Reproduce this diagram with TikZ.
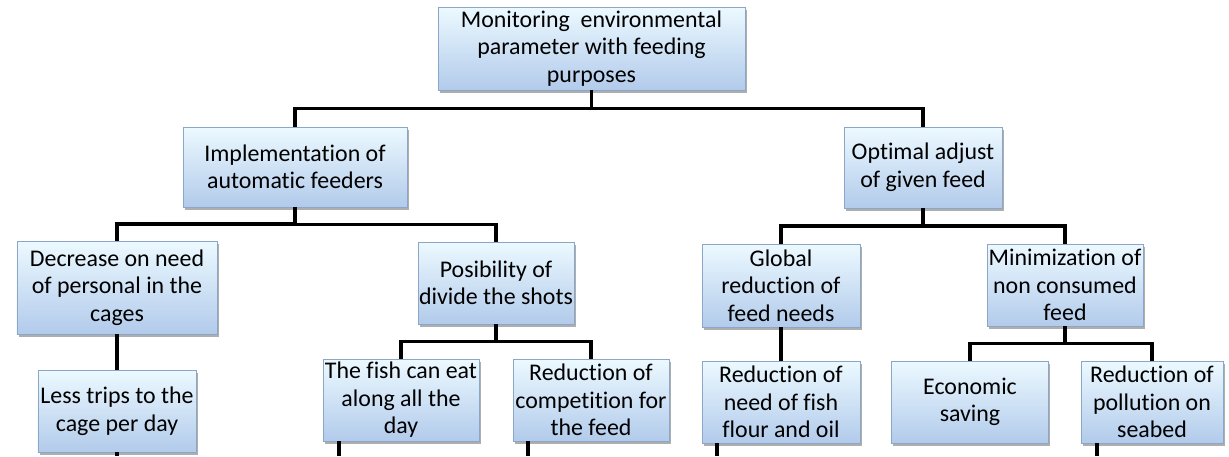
\documentclass[tikz,border=0pt]{standalone}
\usepackage{fontspec}
\setmainfont{Carlito}[Ligatures=NoCommon]
\usetikzlibrary{calc,shadows}
\definecolor{boxtop}{RGB}{236,249,255}
\definecolor{boxbot}{RGB}{178,203,235}
\definecolor{boxline}{RGB}{140,166,200}
\newcommand{\branch}[2]{%
  \draw[link] (#1.south) |- ($(#1.south)!0.5!(#2.north)$) -| (#2.north);
}

\begin{document}
\begin{tikzpicture}[x=0.3mm, y=-0.3mm, line join=miter]
\tikzset{box/.style={draw=boxline, line width=0.6pt, top color=boxtop, bottom color=boxbot, align=center, inner sep=0pt, minimum width=46.8mm, minimum height=24.6mm, font=\fontsize{20.4}{23.5}\selectfont, drop shadow={shadow xshift=0.5mm, shadow yshift=-0.8mm, fill=black!70, opacity=0.45}}, link/.style={line width=1.1mm}}

\useasboundingbox (0,0) rectangle (1229,456);

% level 0
\node[box, minimum width=92.1mm, minimum height=24.9mm] (goal) at (591.5,48.5) {Monitoring\ \ environmental\\parameter with feeding\\purposes};

% level 1
\node[box, minimum width=67.2mm, minimum height=24mm] (feeders) at (295,167) {Implementation of\\automatic feeders};
\node[box, minimum width=47.4mm, minimum height=24.3mm] (adjust) at (923,167.5) {Optimal adjust\\of given feed};

% level 2
\node[box, minimum width=60mm, minimum height=27.9mm] (staff) at (117,287.5) {Decrease on need\\of personal in the\\cages};
\node[box] (shots) at (496,283) {Posibility of\\divide the shots};
\node[box, minimum width=47.4mm, minimum height=24.9mm] (global) at (781,285.5) {Global\\reduction of\\feed needs};
\node[box] (waste) at (1065,285) {Minimization of\\non consumed\\feed};

% level 3
\node[box, minimum width=47.4mm] (trips) at (117,411) {Less trips to the\\cage per day};
\node[box] (allday) at (401,400) {The fish can eat\\along all the\\day};
\node[box] (compet) at (591,400) {Reduction of\\competition for\\the feed};
\node[box, minimum width=47.4mm] (flour) at (781,402) {Reduction of\\need of fish\\flour and oil};
\node[box, minimum width=47.1mm] (saving) at (970,402) {Economic\\saving};
\node[box, minimum width=42.6mm] (seabed) at (1152,402) {Reduction of\\pollution on\\seabed};

% tree links
\branch{goal}{feeders}
\branch{goal}{adjust}
\branch{feeders}{staff}
\branch{feeders}{shots}
\branch{adjust}{global}
\branch{adjust}{waste}
\branch{shots}{allday}
\branch{shots}{compet}
\branch{waste}{saving}
\branch{waste}{seabed}
\draw[link] (staff.south) -- (trips.north);
\draw[link] (global.south) -- (flour.north);

% links running on below the bottom edge
\coordinate (cutTrips) at (117,456);
\coordinate (cutAllday) at (339,456);
\coordinate (cutCompet) at (528,456);
\coordinate (cutFlour) at (717,456);
\coordinate (cutSeabed) at (1097,456);
\draw[link] (trips.south) -- (cutTrips);
\draw[link] (cutAllday |- allday.south) -- (cutAllday);
\draw[link] (cutCompet |- compet.south) -- (cutCompet);
\draw[link] (cutFlour |- flour.south) -- (cutFlour);
\draw[link] (cutSeabed |- seabed.south) -- (cutSeabed);
\end{tikzpicture}
\end{document}
